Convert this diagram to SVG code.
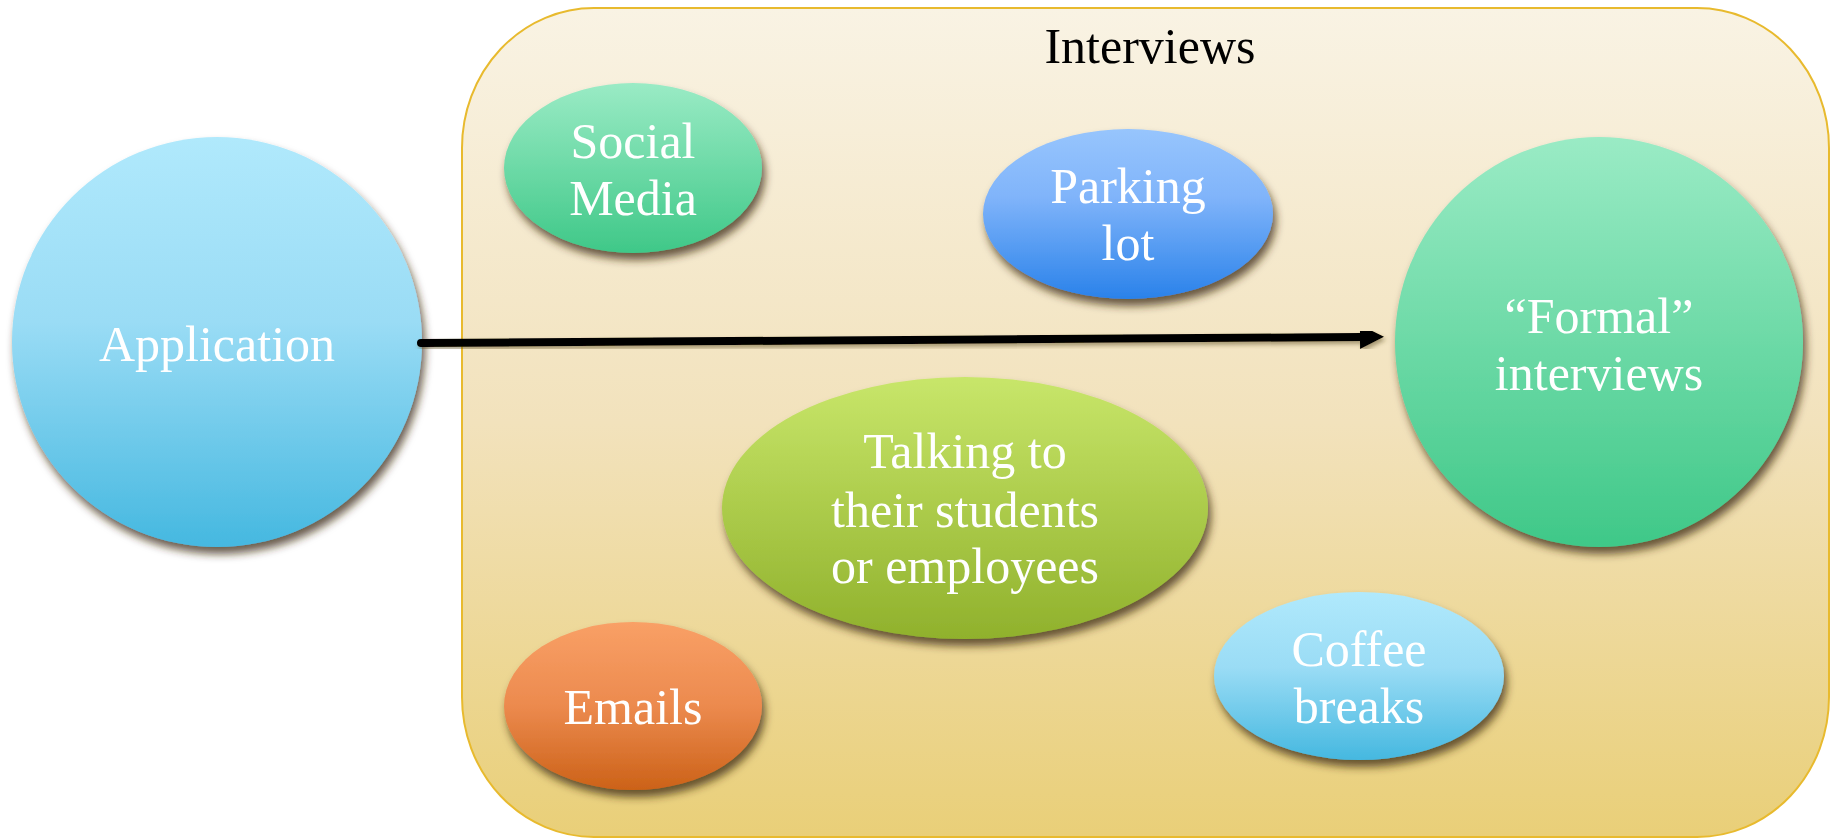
<svg xmlns="http://www.w3.org/2000/svg" width="1835" height="839" viewBox="0 0 1835 839">
<defs>
<style>
.lbl{font-family:"Liberation Serif","Times New Roman",serif;font-size:50px;fill:#ffffff;text-anchor:middle}
.title{font-family:"Liberation Serif","Times New Roman",serif;font-size:50px;fill:#000000;text-anchor:middle}
.node{filter:url(#shadow)}
</style>
<filter id="shadow" x="-20%" y="-20%" width="140%" height="150%">
<feDropShadow dx="3" dy="7" stdDeviation="4" flood-color="#3a2c10" flood-opacity="0.75"/>
</filter>
<filter id="ashadow" x="-5%" y="-100%" width="110%" height="300%">
<feDropShadow dx="2" dy="3" stdDeviation="2" flood-color="#5a4a20" flood-opacity="0.5"/>
</filter>
<linearGradient id="gBox" x1="0" y1="0" x2="0" y2="1">
<stop offset="0" stop-color="#F9F3E4"/>
<stop offset="0.5" stop-color="#F2E2BC"/>
<stop offset="1" stop-color="#E9CF78"/>
</linearGradient>
<linearGradient id="gBlue" x1="0" y1="0" x2="0" y2="1">
<stop offset="0" stop-color="#B0E9FC"/>
<stop offset="0.45" stop-color="#9ADCF5"/>
<stop offset="1" stop-color="#45B8E0"/>
</linearGradient>
<linearGradient id="gGreen" x1="0" y1="0" x2="0" y2="1">
<stop offset="0" stop-color="#9AEBC5"/>
<stop offset="1" stop-color="#3FC888"/>
</linearGradient>
<linearGradient id="gPark" x1="0" y1="0" x2="0" y2="1">
<stop offset="0" stop-color="#97C5FD"/>
<stop offset="0.4" stop-color="#80B4FA"/>
<stop offset="1" stop-color="#2A82EA"/>
</linearGradient>
<linearGradient id="gLime" x1="0" y1="0" x2="0" y2="1">
<stop offset="0" stop-color="#C8E66A"/>
<stop offset="1" stop-color="#90B12C"/>
</linearGradient>
<linearGradient id="gOrange" x1="0" y1="0" x2="0" y2="1">
<stop offset="0" stop-color="#F9A066"/>
<stop offset="0.5" stop-color="#EC8A4E"/>
<stop offset="1" stop-color="#CC6218"/>
</linearGradient>
<marker id="arrow" markerUnits="userSpaceOnUse" viewBox="0 0 24 24" markerWidth="24" markerHeight="24" refX="2" refY="12" orient="auto">
<path d="M0,0 L24,12 L0,24 z" fill="#000000"/>
</marker>
</defs>

<g id="interviews">
<rect x="462" y="8" width="1367" height="829" rx="132" ry="140" fill="url(#gBox)" stroke="#E8BA2E" stroke-width="2"/>
<text class="title" x="1150" y="63">Interviews</text>
</g>

<g id="application">
<circle class="node" cx="217" cy="342" r="205" fill="url(#gBlue)"/>
<text class="lbl" x="217" y="361">Application</text>
</g>

<g id="social-media">
<ellipse class="node" cx="633" cy="168" rx="129" ry="85" fill="url(#gGreen)"/>
<text class="lbl" x="633" y="158">Social</text>
<text class="lbl" x="633" y="215">Media</text>
</g>

<g id="parking-lot">
<ellipse class="node" cx="1128" cy="214" rx="145" ry="85" fill="url(#gPark)"/>
<text class="lbl" x="1128" y="203">Parking</text>
<text class="lbl" x="1128" y="260">lot</text>
</g>

<g id="formal-interviews">
<ellipse class="node" cx="1599" cy="342" rx="204" ry="205" fill="url(#gGreen)"/>
<text class="lbl" x="1599" y="333">“Formal”</text>
<text class="lbl" x="1599" y="390">interviews</text>
</g>

<g id="talking">
<ellipse class="node" cx="965" cy="508" rx="243" ry="131" fill="url(#gLime)"/>
<text class="lbl" x="965" y="468">Talking to</text>
<text class="lbl" x="965" y="527">their students</text>
<text class="lbl" x="965" y="583">or employees</text>
</g>

<g id="emails">
<ellipse class="node" cx="633" cy="706" rx="129" ry="84" fill="url(#gOrange)"/>
<text class="lbl" x="633" y="724">Emails</text>
</g>

<g id="coffee-breaks">
<ellipse class="node" cx="1359" cy="676" rx="145" ry="84" fill="url(#gBlue)"/>
<text class="lbl" x="1359" y="666">Coffee</text>
<text class="lbl" x="1359" y="723">breaks</text>
</g>

<g id="connectors">
<line x1="421" y1="343" x2="1362" y2="337" stroke="#000000" stroke-width="8" stroke-linecap="round" marker-end="url(#arrow)" filter="url(#ashadow)"/>
</g>
</svg>
